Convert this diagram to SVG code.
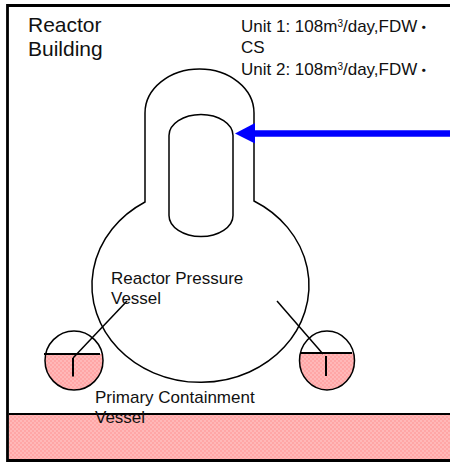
<svg xmlns="http://www.w3.org/2000/svg" width="450" height="462" viewBox="0 0 450 462">
<defs>
<pattern id="dither" width="4" height="4" patternUnits="userSpaceOnUse">
<rect width="4" height="4" fill="#ffa6a6"/>
<rect x="0" y="0" width="2" height="2" fill="#ffb8b8"/>
<rect x="2" y="2" width="2" height="2" fill="#ffb8b8"/>
</pattern>
<clipPath id="lc"><ellipse cx="74" cy="360.500" rx="29" ry="29.500"/></clipPath>
<clipPath id="rc"><ellipse cx="327" cy="360.500" rx="27.500" ry="29.500"/></clipPath>
</defs>
<style>
.t{font-family:"Liberation Sans","Noto Sans CJK JP",sans-serif;fill:#111}
.o{fill:none;stroke:#000;stroke-width:1.500}
.h{fill:none;stroke:#000;stroke-width:2}
.sup{font-size:10px}
.dot{font-size:13px;font-weight:bold}
</style>
<rect width="450" height="462" fill="#fff"/>
<g id="ground">
<rect x="9" y="414" width="441" height="46" fill="url(#dither)"/>
<path d="M9 414H450" class="h"/>
</g>
<g id="frame">
<path d="M450 5.500H7.500V460.500H450" fill="none" stroke="#000" stroke-width="2.800"/>
</g>
<g id="containment">
<path d="M145 202V113A54.500 44 0 0 1 254 113V201A108.500 97 0 1 1 145 202Z" class="o"/>
</g>
<g id="vessel">
<rect x="169" y="114.500" width="64" height="122" rx="32" ry="21" class="o"/>
</g>
<g id="left-torus">
<rect x="44" y="354" width="60" height="37" fill="url(#dither)" clip-path="url(#lc)"/>
<ellipse cx="74" cy="360.500" rx="29" ry="29.500" class="o"/>
<path d="M44 354H100" class="h"/>
<path d="M73 376.500V358" class="h"/>
</g>
<g id="right-torus">
<rect x="299" y="353" width="57" height="38" fill="url(#dither)" clip-path="url(#rc)"/>
<ellipse cx="327" cy="360.500" rx="27.500" ry="29.500" class="o"/>
<path d="M300 353H352" class="h"/>
<path d="M326 376V356" class="h"/>
</g>
<g id="connectors">
<path d="M73 358L127 301" class="o"/>
<path d="M277 301L323 354" class="o"/>
<path d="M450 133.500H253" fill="none" stroke="#0000ff" stroke-width="6.500"/>
<path d="M235 133.500L255 123V143.500Z" fill="#0000ff"/>
</g>
<g id="labels">
<text class="t" font-size="21" x="28" y="32">Reactor</text>
<text class="t" font-size="21" x="28" y="56">Building</text>
<text class="t" font-size="17" x="241" y="32">Unit 1: 108m<tspan class="sup" dy="-5">3</tspan><tspan dy="5">/day,FDW</tspan><tspan class="dot">・</tspan></text>
<text class="t" font-size="17" x="241" y="53">CS</text>
<text class="t" font-size="17" x="241" y="75">Unit 2: 108m<tspan class="sup" dy="-5">3</tspan><tspan dy="5">/day,FDW</tspan><tspan class="dot">・</tspan></text>
<text class="t" font-size="17" x="111" y="284">Reactor Pressure</text>
<text class="t" font-size="17" x="111" y="304">Vessel</text>
<text class="t" font-size="17" x="95" y="403">Primary Containment</text>
<text class="t" font-size="17" x="95" y="423">Vessel</text>
</g>
</svg>
